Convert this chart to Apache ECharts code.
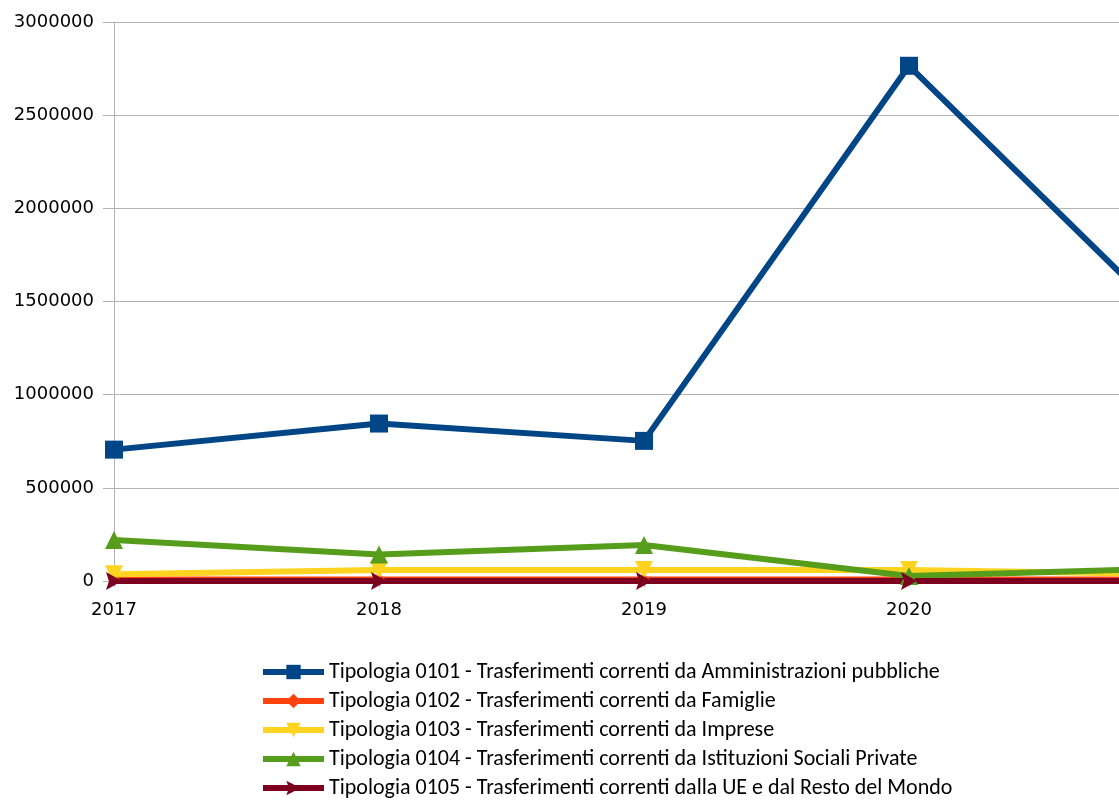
<!DOCTYPE html>
<html>
<head>
<meta charset="utf-8">
<script src="https://cdn.jsdelivr.net/npm/echarts@6/dist/echarts.min.js"></script>
<style>html,body{margin:0;padding:0;background:#fff}#c{width:1119px;height:801px}</style>
</head>
<body>
<div id="c"></div>
<script>
const categories = ['2017', '2018', '2019', '2020', '2021'];
const s0101 = [705000, 845000, 752000, 2765000, 1370000];
const s0102 = [8000, 8000, 8000, 8000, 8000];
const s0103 = [36000, 59000, 59000, 59000, 37000];
const s0104 = [220000, 142000, 193000, 27000, 68000];
const s0105 = [0, 0, 0, 0, 0];
const yTicks = { min: 0, max: 3000000, interval: 500000 };
const names = [
  'Tipologia 0101 - Trasferimenti correnti da Amministrazioni pubbliche',
  'Tipologia 0102 - Trasferimenti correnti da Famiglie',
  'Tipologia 0103 - Trasferimenti correnti da Imprese',
  'Tipologia 0104 - Trasferimenti correnti da Istituzioni Sociali Private',
  'Tipologia 0105 - Trasferimenti correnti dalla UE e dal Resto del Mondo'
];
const colors = ['#004586', '#ff420e', '#ffd320', '#579d1c', '#7e0021'];
const symbols = ['rect', 'diamond', 'triangle', 'triangle', 'path://M0,0 L16,9 L0,18 L3,9 Z'];
const rotates = [0, 0, 180, 0, 0];
const sizes = [18, 12, 18, 18, [16, 18]];
const data = [s0101, s0102, s0103, s0104, s0105];

const chart = echarts.init(document.getElementById('c'));
const font = "Carlito, 'Liberation Sans Narrow', 'DejaVu Sans Condensed', sans-serif";
chart.setOption({
  animation: false,
  color: colors,
  grid: { left: 114, right: -55, top: 22, bottom: 220, containLabel: false, outerBoundsMode: 'none' },
  xAxis: {
    type: 'category', data: categories, boundaryGap: false,
    axisLine: { show: true, lineStyle: { color: '#b3b3b3', width: 1 } },
    axisTick: { show: true, alignWithLabel: true, length: 6, lineStyle: { color: '#b3b3b3' } },
    axisLabel: { color: '#000', fontSize: 18, fontFamily: "'DejaVu Sans', sans-serif", margin: 20 },
    splitLine: { show: false }
  },
  yAxis: {
    type: 'value', min: yTicks.min, max: yTicks.max, interval: yTicks.interval,
    axisLine: { show: true, lineStyle: { color: '#b3b3b3', width: 1 } },
    axisTick: { show: true, length: 11, lineStyle: { color: '#b3b3b3' } },
    axisLabel: { color: '#000', fontSize: 18, fontFamily: "'DejaVu Sans', sans-serif", margin: 20,
      formatter: v => String(v) },
    splitLine: { show: true, lineStyle: { color: '#b3b3b3', width: 1 } }
  },
  legend: {
    orient: 'vertical', left: 260, top: 661, bottom: 0, padding: 0, itemGap: 7, itemWidth: 61, itemHeight: 18,
    lineStyle: { width: 6 },
    textStyle: { color: '#000', fontSize: 22, fontFamily: font, padding: [0, 0, 0, 0], lineHeight: 22 },
    data: names
  },
  series: names.map((n, i) => ({
    name: n, type: 'line', data: data[i],
    symbol: symbols[i], symbolSize: sizes[i], symbolRotate: rotates[i],
    showAllSymbol: true,
    lineStyle: { width: 6, color: colors[i] },
    itemStyle: { color: colors[i] },
    clip: false
  }))
});
</script>
</body>
</html>
